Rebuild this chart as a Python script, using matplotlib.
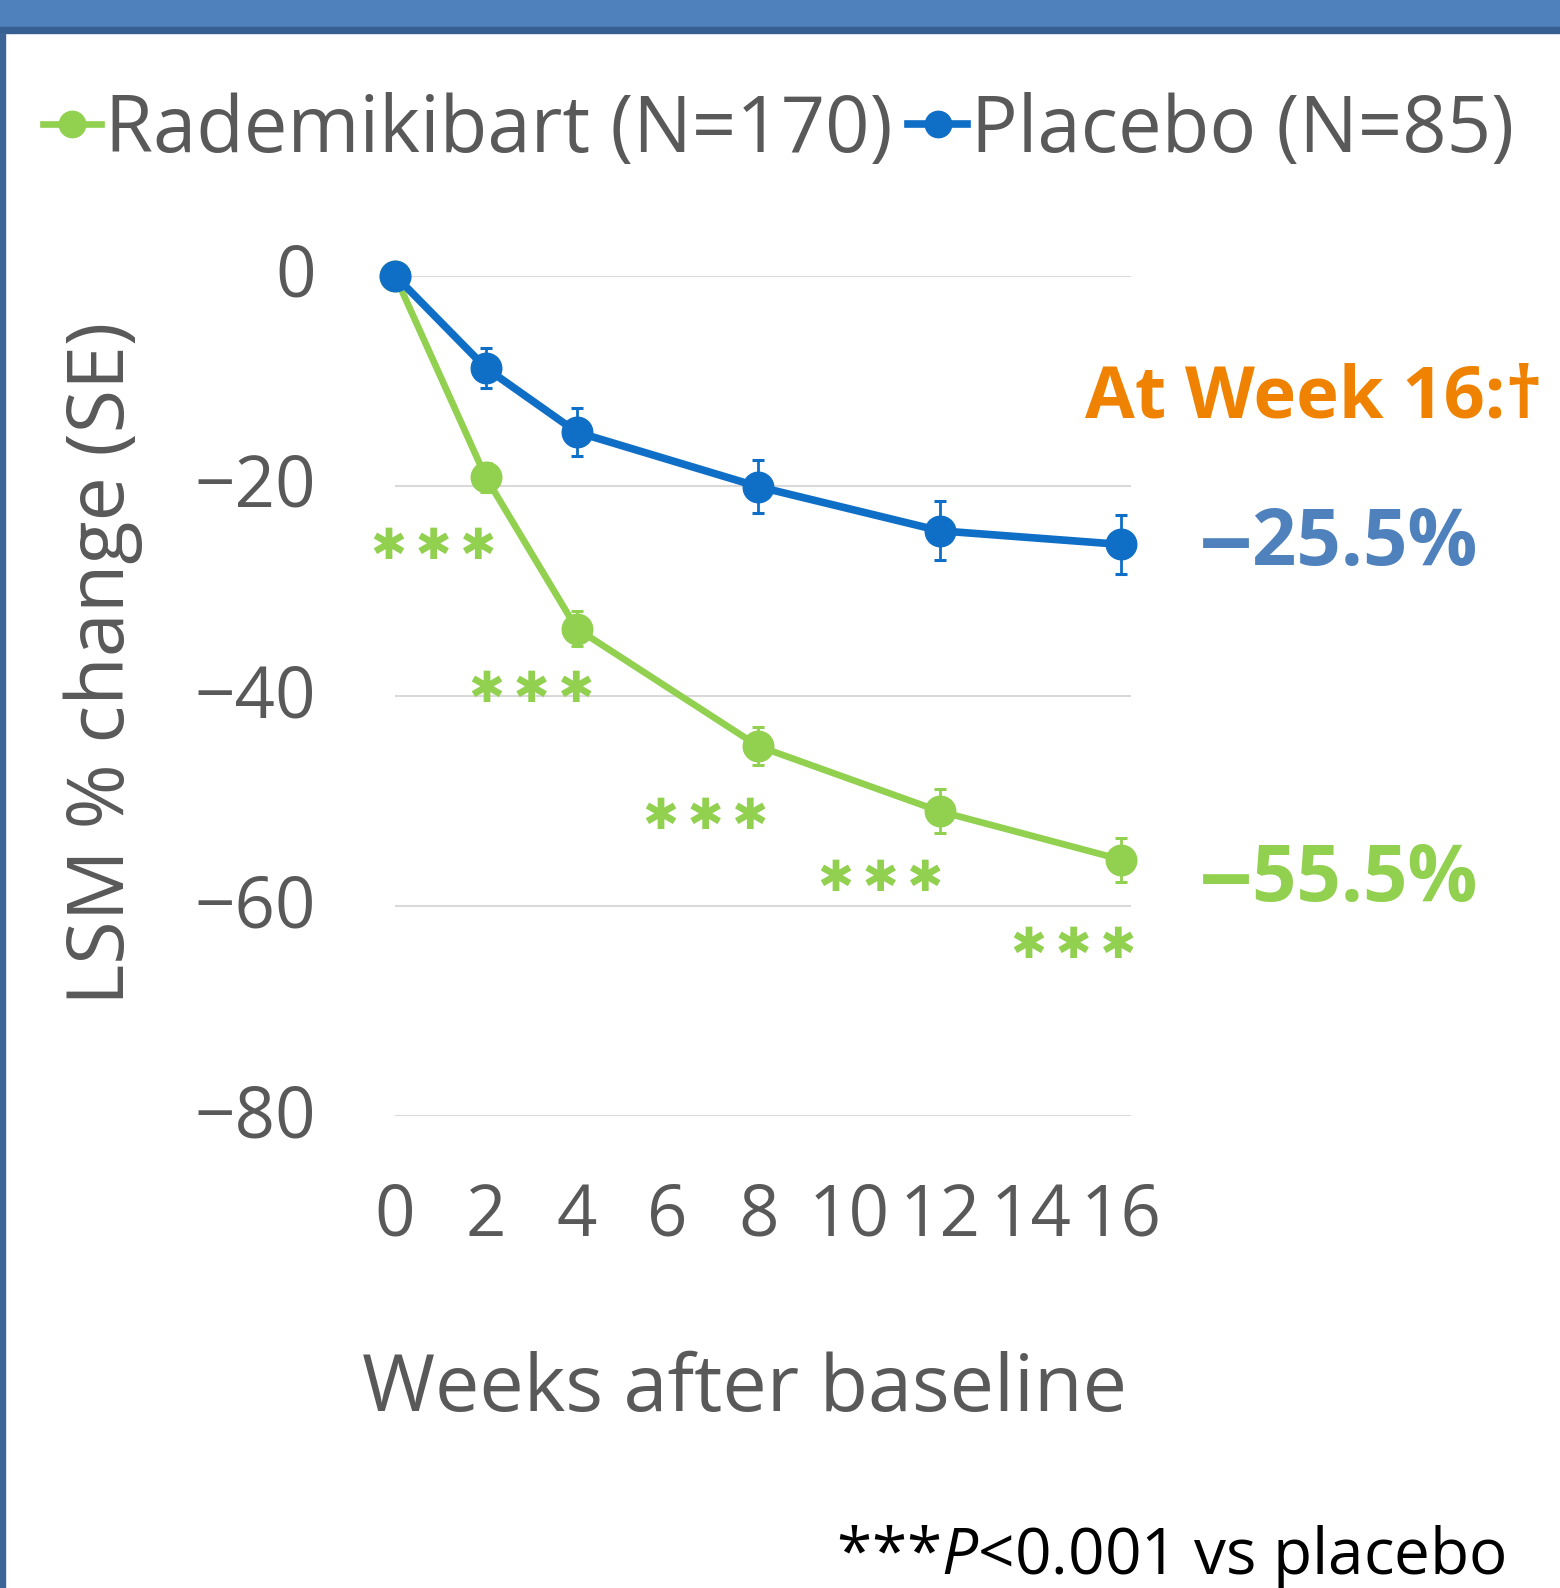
import matplotlib
matplotlib.use("Agg")
import matplotlib.pyplot as plt
from matplotlib.patches import Rectangle
from matplotlib.lines import Line2D
from matplotlib.transforms import ScaledTranslation

# data
weeks = [0, 2, 4, 8, 12, 16]
rademikibart = [0, -19.2, -33.6, -44.8, -51.0, -55.6]
rademikibart_se = [0, 1.4, 1.7, 1.8, 2.1, 2.1]
placebo = [0, -8.8, -14.9, -20.1, -24.3, -25.6]
placebo_se = [0, 1.9, 2.3, 2.5, 2.8, 2.8]
star_x = [0.85, 3.0, 6.85, 10.7, 14.95]
star_y = [-25.8, -39.5, -51.5, -57.4, -63.8]
xticks = [0, 2, 4, 6, 8, 10, 12, 14, 16]
yticks = [0, -20, -40, -60, -80]

green = "#92D050"
blue = "#0F6FC6"
grey = "#595959"

plt.rcParams['font.family'] = ['Open Sans', 'DejaVu Sans']
plt.rcParams['mathtext.fontset'] = 'custom'
plt.rcParams['mathtext.it'] = 'Open Sans:italic'
plt.rcParams['mathtext.rm'] = 'Open Sans'

W, H = 1560, 1588
fig = plt.figure(figsize=(W / 100, H / 100), dpi=100)
fig.patch.set_facecolor('white')

def fx(px):
    return px / W

def fy(py):
    return 1 - py / H

# header bar and left border
fig.patches.append(Rectangle((0, fy(27)), 1, 27 / H, transform=fig.transFigure, color="#4F81BD", zorder=0))
fig.patches.append(Rectangle((0, fy(33)), 1, 6 / H, transform=fig.transFigure, color="#375F91", zorder=0))
fig.patches.append(Rectangle((0, 0), fx(5), fy(33), transform=fig.transFigure, color="#3D6497", zorder=0))

ax = fig.add_axes([fx(395), fy(1116), (1130.5 - 395) / W, (1116 - 275.5) / H])
ax.set_xlim(0, 16.2)
ax.set_ylim(-80, 0)
for s in ax.spines.values():
    s.set_visible(False)
ax.set_yticks(yticks)
ax.set_xticks(xticks)
ax.grid(axis='y', color="#D9D9D9", linewidth=1.5)
ax.set_axisbelow(True)
ax.tick_params(length=0, pad=57, labelsize=51, labelcolor=grey)
ax.tick_params(axis='x', pad=47)
for lab in ax.get_yticklabels():
    lab.set_transform(lab.get_transform() + ScaledTranslation(0, 0.06, fig.dpi_scale_trans))

g = ax.errorbar(weeks, rademikibart, yerr=rademikibart_se, color=green, lw=4.8, marker='o', ms=22,
                elinewidth=2, capsize=4.5, capthick=2.2, clip_on=False)
b = ax.errorbar(weeks, placebo, yerr=placebo_se, color=blue, lw=5.5, marker='o', ms=22,
                elinewidth=2, capsize=4.5, capthick=2.2, clip_on=False)
for art in list(g.lines[1]) + list(g.lines[2]) + list(b.lines[1]) + list(b.lines[2]):
    art.set_clip_on(False)

for x, y in zip(star_x, star_y):
    ax.text(x, y, "\u2731\u2009\u2731\u2009\u2731", color=green, fontsize=31, family='DejaVu Sans',
            ha='center', va='center')

ax.set_xlabel("Weeks after baseline", fontsize=57, color=grey)
ax.xaxis.set_label_coords((735 * 1.013 - 395) / 735.5, (1116 - 1390) / 840.5)
ax.xaxis.label.set_va('center')
ax.set_ylabel("LSM % change (SE)", fontsize=57, color=grey)
ax.yaxis.set_label_coords((103 - 395) / 735.5, (1116 - 663) / 840.5)
ax.yaxis.label.set_va('center')

handles = [Line2D([], [], color=green, lw=4.8, marker='o', ms=19),
           Line2D([], [], color=blue, lw=5.5, marker='o', ms=19)]
leg = ax.legend(handles, ["Rademikibart (N=170)", "Placebo (N=85)"], loc='center left',
                bbox_to_anchor=(fx(43), fy(131)), bbox_transform=fig.transFigure, ncol=2,
                frameon=False, fontsize=56, handlelength=0.75, handletextpad=0.05,
                columnspacing=0.2, borderpad=0, borderaxespad=0)
for t in leg.get_texts():
    t.set_color(grey)

fig.text(fx(1314), fy(398), "At Week 16:\u2020", color="#EF8200", fontsize=52, fontweight='bold',
         ha='center', va='center')
fig.text(fx(1339), fy(545), "\u201225.5%", color="#4F81BD", fontsize=56, fontweight='bold',
         ha='center', va='center')
fig.text(fx(1339), fy(881), "\u201255.5%", color=green, fontsize=56, fontweight='bold',
         ha='center', va='center')

fig.text(fx(836), fy(1557), r"***$\it{P}$<0.001 vs placebo", color="black", fontsize=46,
         ha='left', va='center')

fig.savefig("out.png", dpi=100)
